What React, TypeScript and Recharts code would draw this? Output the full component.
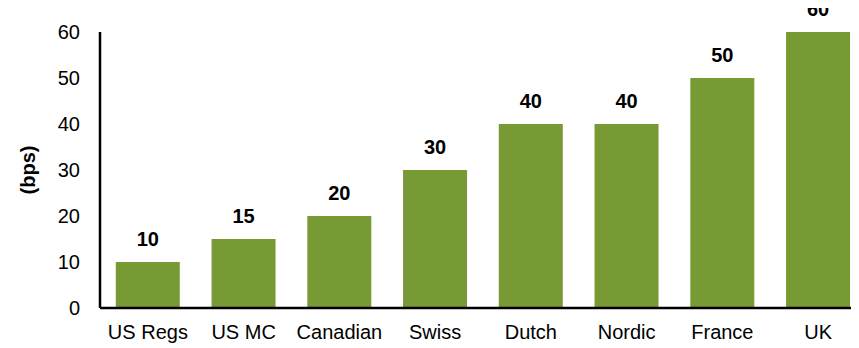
import React from 'react'
import { BarChart, Bar, XAxis, YAxis, LabelList } from 'recharts'

const categories = ['US Regs', 'US MC', 'Canadian', 'Swiss', 'Dutch', 'Nordic', 'France', 'UK']
const values = [10, 15, 20, 30, 40, 40, 50, 60]
const yTicks = [0, 10, 20, 30, 40, 50, 60]

const data = categories.map((name, i) => ({ name, value: values[i] }))

const FONT = '"Liberation Sans", Arial, sans-serif'
const GREEN = '#789A34'

export default function App() {
  return (
    <div style={{ width: 851, height: 340, overflow: 'hidden', fontFamily: FONT }}>
      <BarChart
        width={862}
        height={340}
        data={data}
        margin={{ top: 24, right: 4, bottom: 0, left: 12 }}
        barCategoryGap="16.5%"
      >
        <XAxis
          dataKey="name"
          height={40}
          tickLine={false}
          tickMargin={11}
          axisLine={{ stroke: '#000', strokeWidth: 2.5 }}
          tick={{ fill: '#000', fontSize: 20, fontFamily: FONT }}
          interval={0}
        />
        <YAxis
          width={80}
          domain={[0, 60]}
          ticks={yTicks}
          tickLine={false}
          tickMargin={14}
          axisLine={{ stroke: '#000', strokeWidth: 2.5 }}
          tick={{ fill: '#000', fontSize: 20, fontFamily: FONT }}
          label={{
            value: '(bps)',
            angle: -90,
            position: 'insideLeft',
            offset: 8,
            style: { fill: '#000', fontSize: 20, fontWeight: 'bold', fontFamily: FONT, textAnchor: 'middle' },
          }}
        />
        <Bar dataKey="value" fill={GREEN} isAnimationActive={false}>
          <LabelList
            dataKey="value"
            position="top"
            offset={16}
            style={{ fill: '#000', fontSize: 20, fontWeight: 'bold', fontFamily: FONT }}
          />
        </Bar>
      </BarChart>
    </div>
  )
}
